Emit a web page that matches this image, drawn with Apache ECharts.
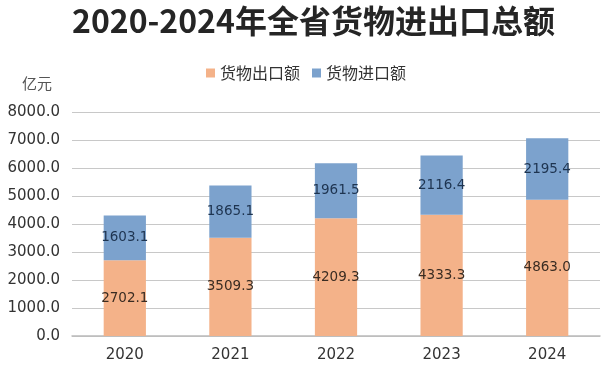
<!DOCTYPE html>
<html><head><meta charset="utf-8">
<script src="https://cdn.jsdelivr.net/npm/echarts@6/dist/echarts.min.js"></script>
<style>html,body{margin:0;padding:0;background:#fff}#c{width:612px;height:374px}</style>
</head><body><div id="c"></div>
<script>
const categories = ['2020', '2021', '2022', '2023', '2024'];
const exportValues = [2702.1, 3509.3, 4209.3, 4333.3, 4863.0];
const importValues = [1603.1, 1865.1, 1961.5, 2116.4, 2195.4];
const seriesNames = ['货物出口额', '货物进口额'];
const yTicks = { min: 0, max: 8000, interval: 1000 };

const chart = echarts.init(document.getElementById('c'), null, { renderer: 'canvas' });
const labelFont = 'DejaVu Sans';
chart.setOption({
  animation: false,
  backgroundColor: '#fff',
  title: {
    text: '2020-2024年全省货物进出口总额',
    left: 67, top: 0,
    textStyle: { fontFamily: 'Noto Sans CJK SC', fontSize: 32, fontWeight: 'bold', color: '#252525' }
  },
  legend: {
    data: seriesNames,
    top: 60, left: 'center',
    itemWidth: 9, itemHeight: 9, itemGap: 12,
    icon: 'rect',
    textStyle: { fontFamily: 'Noto Sans CJK SC', fontSize: 16, color: '#333' }
  },
  graphic: [{
    type: 'text', left: 22, top: 76,
    style: { text: '亿元', fontFamily: 'Noto Sans CJK SC', fontSize: 15, fill: '#555' }
  }],
  grid: { left: 72, right: 12, top: 112, bottom: 38 },
  xAxis: {
    type: 'category', data: categories,
    axisLine: { lineStyle: { color: '#bbb', width: 1.5 } },
    axisTick: { show: false },
    axisLabel: { fontFamily: labelFont, fontSize: 15, color: '#333', margin: 12 }
  },
  yAxis: {
    type: 'value', min: yTicks.min, max: yTicks.max, interval: yTicks.interval,
    axisLine: { show: false }, axisTick: { show: false },
    splitLine: { lineStyle: { color: '#c8c8c8', width: 1.2 } },
    axisLabel: { fontFamily: labelFont, fontSize: 15, color: '#333', margin: 12,
      formatter: v => v.toFixed(1) }
  },
  series: [
    {
      name: seriesNames[0], type: 'bar', stack: 't', data: exportValues, barWidth: '40%',
      itemStyle: { color: '#F4B289' },
      label: { show: true, position: 'inside', fontFamily: labelFont, fontSize: 13.5, color: '#3a2c22',
        formatter: p => p.value.toFixed(1) }
    },
    {
      name: seriesNames[1], type: 'bar', stack: 't', data: importValues, barWidth: '40%',
      itemStyle: { color: '#7CA2CD' },
      label: { show: true, position: 'inside', fontFamily: labelFont, fontSize: 13.5, color: '#1e3450',
        formatter: p => p.value.toFixed(1) }
    }
  ]
});
</script></body></html>
